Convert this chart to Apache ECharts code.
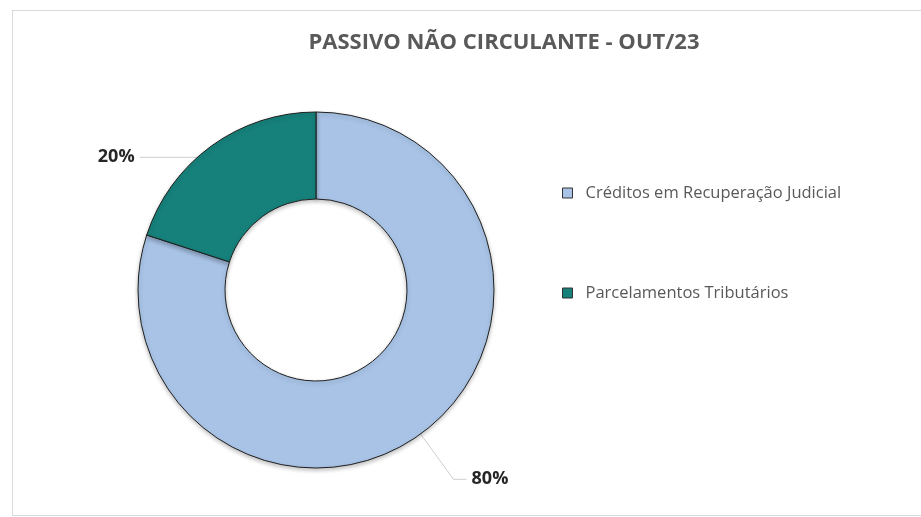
<!DOCTYPE html>
<html>
<head>
<meta charset="utf-8">
<script src="https://cdn.jsdelivr.net/npm/echarts@6/dist/echarts.min.js"></script>
<style>
    html, body { margin: 0; padding: 0; background: #fff; overflow: hidden; }
    #frame { position: absolute; left: 12px; top: 10px; width: 1000px; height: 504px; border: 1px solid #d9d9d9; }
    #chart { position: absolute; left: 0; top: 0; width: 921px; height: 517px; }
</style>
</head>
<body>
<div id="frame"></div>
<div id="chart"></div>
<script>
// dados do grafico
var titulo = 'PASSIVO NÃO CIRCULANTE - OUT/23';
var categorias = ['Créditos em Recuperação Judicial', 'Parcelamentos Tributários'];
var valores = [80, 20];
var cores = ['#a8c3e6', '#16807a'];

var chart = echarts.init(document.getElementById('chart'));

// comprimento das linhas de rotulo por fatia
var linhaLen = [100, 30];
var linhaLen2 = [13, 80];

var option = {
    title: {
        text: titulo,
        left: 499,
        textAlign: 'center',
        top: 27,
        textStyle: {
            fontFamily: 'Open Sans',
            fontSize: 22,
            fontWeight: 'bold',
            color: '#595959'
        }
    },
    legend: {
        orient: 'vertical',
        left: 562,
        top: 183,
        padding: 0,
        itemGap: 80,
        itemWidth: 10,
        itemHeight: 10,
        icon: 'rect',
        data: categorias.map(function (c, i) {
            return { name: c, itemStyle: { color: cores[i], borderColor: '#333', borderWidth: 1 } };
        }),
        textStyle: {
            fontFamily: 'Open Sans',
            fontSize: 16.5,
            lineHeight: 20,
            color: '#595959',
            padding: [0, 0, 0, 8]
        }
    },
    series: [
        {
            type: 'pie',
            center: [316, 290],
            radius: [91, 178],
            startAngle: 90,
            clockwise: true,
            silent: true,
            label: { show: false },
            labelLine: { show: false },
            itemStyle: {
                borderColor: '#1e1e1e',
                borderWidth: 1,
                shadowBlur: 4,
                shadowOffsetY: 2,
                shadowColor: 'rgba(0,0,0,0.25)'
            },
            data: categorias.map(function (c, i) {
                return { name: c, value: valores[i], itemStyle: { color: cores[i] } };
            })
        },
        {
            // serie invisivel so para os rotulos comecarem no meio do anel
            type: 'pie',
            center: [316, 290],
            radius: [0, 134],
            startAngle: 90,
            clockwise: true,
            silent: true,
            avoidLabelOverlap: false,
            itemStyle: { color: 'rgba(0,0,0,0)', borderWidth: 0 },
            label: {
                show: true,
                position: 'outside',
                formatter: '{d}%',
                fontFamily: 'Open Sans',
                fontSize: 18,
                fontWeight: 'bold',
                color: '#262626'
            },
            labelLine: {
                show: true,
                lineStyle: { color: '#cfcfcf', width: 1 }
            },
            data: categorias.map(function (c, i) {
                return {
                    name: c,
                    value: valores[i],
                    labelLine: { length: linhaLen[i], length2: linhaLen2[i] }
                };
            })
        }
    ]
};
chart.setOption(option);
</script>
</body>
</html>
